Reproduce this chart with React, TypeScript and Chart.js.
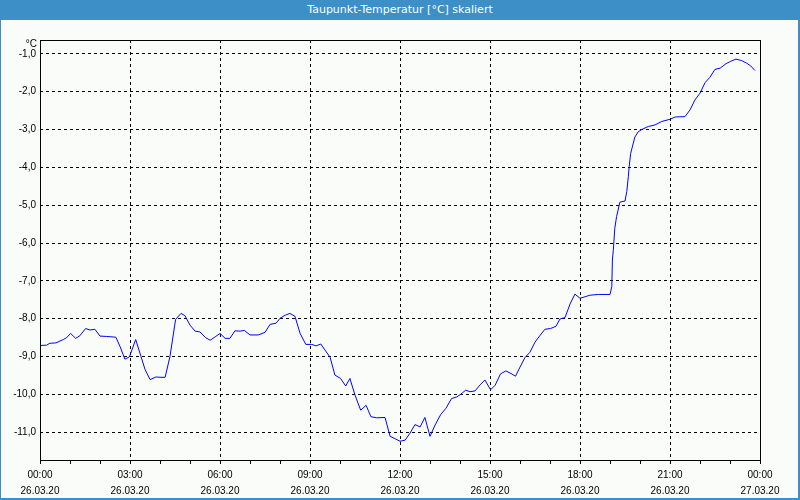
import React, { useEffect, useRef } from 'react';
import { Chart, registerables } from 'chart.js';

Chart.register(...registerables);

const chartTitle = 'Taupunkt-Temperatur [°C] skaliert';
const unitLabel = '°C';

// time in hours since 26.03.20 00:00
const hours = [
  0.0, 0.22, 0.33, 0.53, 0.78, 0.89, 1.02, 1.19, 1.33, 1.52, 1.67, 1.83, 2.0, 2.22, 2.53, 2.67, 2.83, 2.98,
  3.19, 3.37, 3.5, 3.67, 3.87, 4.0, 4.17, 4.33, 4.52, 4.7, 4.83, 5.0, 5.17, 5.33, 5.52, 5.67, 5.84,
  6.0, 6.17, 6.33, 6.5, 6.67, 6.81, 7.0, 7.28, 7.5, 7.67, 7.87, 8.0, 8.17, 8.33, 8.5, 8.67, 8.86,
  9.06, 9.2, 9.36, 9.5, 9.67, 9.83, 10.02, 10.19, 10.33, 10.5, 10.69, 10.87, 11.03, 11.22, 11.5, 11.67, 11.83,
  12.0, 12.17, 12.33, 12.5, 12.67, 12.83, 13.0, 13.17, 13.36, 13.53, 13.72, 13.89, 14.02, 14.19, 14.33, 14.5, 14.67, 14.83,
  15.02, 15.17, 15.35, 15.53, 15.7, 15.85, 16.0, 16.17, 16.33, 16.5, 16.67, 16.83, 17.02, 17.2, 17.33, 17.5, 17.67, 17.83,
  18.0, 18.17, 18.33, 18.61, 19.0, 19.06, 19.08, 19.11, 19.16, 19.22, 19.33, 19.5, 19.56, 19.61, 19.64, 19.69, 19.76, 19.83, 19.94,
  20.06, 20.28, 20.5, 20.72, 21.0, 21.17, 21.5, 21.67, 21.83, 22.0, 22.17, 22.33, 22.5, 22.67, 22.87,
  23.02, 23.2, 23.39, 23.56, 23.69, 23.83,
];

const dewPoint = [
  -8.71, -8.7, -8.65, -8.64, -8.55, -8.5, -8.39, -8.52, -8.45, -8.26, -8.3, -8.28, -8.46, -8.47, -8.49, -8.74, -9.07, -9.01,
  -8.55, -9.01, -9.34, -9.61, -9.54, -9.55, -9.55, -9.01, -8.02, -7.86, -7.92, -8.17, -8.33, -8.35, -8.5, -8.57, -8.48,
  -8.39, -8.52, -8.52, -8.32, -8.33, -8.31, -8.43, -8.43, -8.36, -8.15, -8.12, -7.99, -7.91, -7.86, -7.94, -8.39, -8.68,
  -8.68, -8.72, -8.67, -8.83, -9.02, -9.49, -9.58, -9.78, -9.58, -10.02, -10.42, -10.29, -10.59, -10.62, -10.61, -11.11, -11.17,
  -11.24, -11.21, -11.03, -10.8, -10.86, -10.61, -11.11, -10.81, -10.53, -10.37, -10.11, -10.07, -10.0, -9.89, -9.93, -9.91, -9.75, -9.62,
  -9.88, -9.76, -9.46, -9.38, -9.45, -9.52, -9.28, -9.02, -8.89, -8.62, -8.44, -8.28, -8.26, -8.2, -8.01, -7.97, -7.61, -7.35,
  -7.46, -7.42, -7.38, -7.36, -7.36, -7.15, -6.45, -6.19, -5.61, -5.3, -4.92, -4.89, -4.64, -4.25, -3.98, -3.63, -3.41, -3.2, -3.06,
  -3.0, -2.92, -2.88, -2.79, -2.73, -2.67, -2.66, -2.48, -2.22, -2.04, -1.76, -1.62, -1.41, -1.38, -1.26,
  -1.2, -1.14, -1.18, -1.25, -1.32, -1.44,
];

const yTickValues = [-1, -2, -3, -4, -5, -6, -7, -8, -9, -10, -11];
const xTickHours = [0, 1, 2, 3, 4, 5, 6, 7, 8, 9, 10, 11, 12, 13, 14, 15, 16, 17, 18, 19, 20, 21, 22, 23, 24];
const timeLabels = ['00:00', '03:00', '06:00', '09:00', '12:00', '15:00', '18:00', '21:00', '00:00'];
const dateLabels = ['26.03.20', '26.03.20', '26.03.20', '26.03.20', '26.03.20', '26.03.20', '26.03.20', '26.03.20', '27.03.20'];

const yMin = -11.735;
const yMax = -0.635;

const FONT = 'Liberation Sans, Arial, sans-serif';
const TITLE_FONT = 'DejaVu Sans, Verdana, sans-serif';

export default function App() {
  const canvasRef = useRef<HTMLCanvasElement | null>(null);

  useEffect(() => {
    const canvas = canvasRef.current;
    if (!canvas) return;

    const framePlugin = {
      id: 'frame',
      afterDraw(chart: any) {
        const { ctx, chartArea } = chart;
        const l = Math.round(chartArea.left) + 0.5;
        const t = Math.round(chartArea.top) + 0.5;
        const r = Math.round(chartArea.right) + 0.5;
        const b = Math.round(chartArea.bottom) + 0.5;
        ctx.save();
        ctx.strokeStyle = '#000';
        ctx.lineWidth = 1;
        ctx.setLineDash([]);
        ctx.strokeRect(l, t, r - l, b - t);
        ctx.fillStyle = '#000';
        ctx.font = `10px ${FONT}`;
        ctx.textAlign = 'right';
        ctx.textBaseline = 'middle';
        ctx.fillText(unitLabel, chartArea.left - 3, chartArea.top + 4);
        ctx.restore();
      },
    };

    const chart = new Chart(canvas, {
      type: 'line',
      data: {
        datasets: [
          {
            data: hours.map((h, i) => ({ x: h, y: dewPoint[i] })),
            borderColor: '#0000ff',
            borderWidth: 1,
            pointRadius: 0,
            tension: 0,
            fill: false,
          },
        ],
      },
      options: {
        animation: false,
        responsive: false,
        devicePixelRatio: 1,
        layout: { padding: { top: 20, right: 40, left: 0, bottom: 0 } },
        plugins: { legend: { display: false }, tooltip: { enabled: false }, title: { display: false } },
        scales: {
          x: {
            type: 'linear',
            min: 0,
            max: 24,
            afterBuildTicks: (scale: any) => {
              scale.ticks = xTickHours.map((v) => ({ value: v }));
            },
            afterFit: (scale: any) => {
              scale.height = 40;
            },
            border: { display: false, dash: [3, 3] },
            grid: {
              drawTicks: true,
              tickLength: 4,
              tickColor: '#000',
              lineWidth: 1,
              color: (c: any) => {
                const v = c.tick ? c.tick.value : -1;
                return v % 3 === 0 && v > 0 && v < 24 ? '#000' : 'rgba(0,0,0,0)';
              },
            },
            ticks: {
              autoSkip: false,
              maxRotation: 0,
              padding: 3,
              color: '#000',
              font: { family: FONT, size: 10, lineHeight: '16px' },
              callback: (value: any) => {
                const v = Number(value);
                if (v % 3 !== 0) return '';
                const i = v / 3;
                return [timeLabels[i], dateLabels[i]];
              },
            },
          },
          y: {
            type: 'linear',
            min: yMin,
            max: yMax,
            afterBuildTicks: (scale: any) => {
              scale.ticks = yTickValues.map((v) => ({ value: v }));
            },
            afterFit: (scale: any) => {
              scale.width = 40;
            },
            border: { display: false, dash: [3, 3] },
            grid: {
              drawTicks: false,
              color: '#000',
              lineWidth: 1,
            },
            ticks: {
              padding: 4,
              color: '#000',
              font: { family: FONT, size: 10 },
              callback: (value: any) => Number(value).toFixed(1).replace('.', ','),
            },
          },
        },
      },
      plugins: [framePlugin],
    });

    return () => {
      chart.destroy();
    };
  }, []);

  return (
    <div
      style={{
        position: 'fixed',
        left: 0,
        top: 0,
        width: 800,
        height: 500,
        background: '#fafcfa',
        overflow: 'hidden',
      }}
    >
      <div
        style={{
          position: 'absolute',
          left: 0,
          top: 0,
          width: 800,
          height: 20,
          background: '#3c8fc7',
          color: '#fff',
          fontFamily: TITLE_FONT,
          fontSize: 11,
          lineHeight: '19px',
          textAlign: 'center',
        }}
      >
        {chartTitle}
      </div>
      <canvas
        ref={canvasRef}
        width={800}
        height={480}
        style={{ position: 'absolute', left: 0, top: 20, width: 800, height: 480 }}
      />
      <div
        style={{
          position: 'absolute',
          left: 0,
          top: 0,
          width: 800,
          height: 500,
          boxSizing: 'border-box',
          borderLeft: '1px solid #3c8fc7',
          borderBottom: '2px solid #3c8fc7',
          borderRight: '2px solid #3c8fc7',
          pointerEvents: 'none',
        }}
      />
    </div>
  );
}
